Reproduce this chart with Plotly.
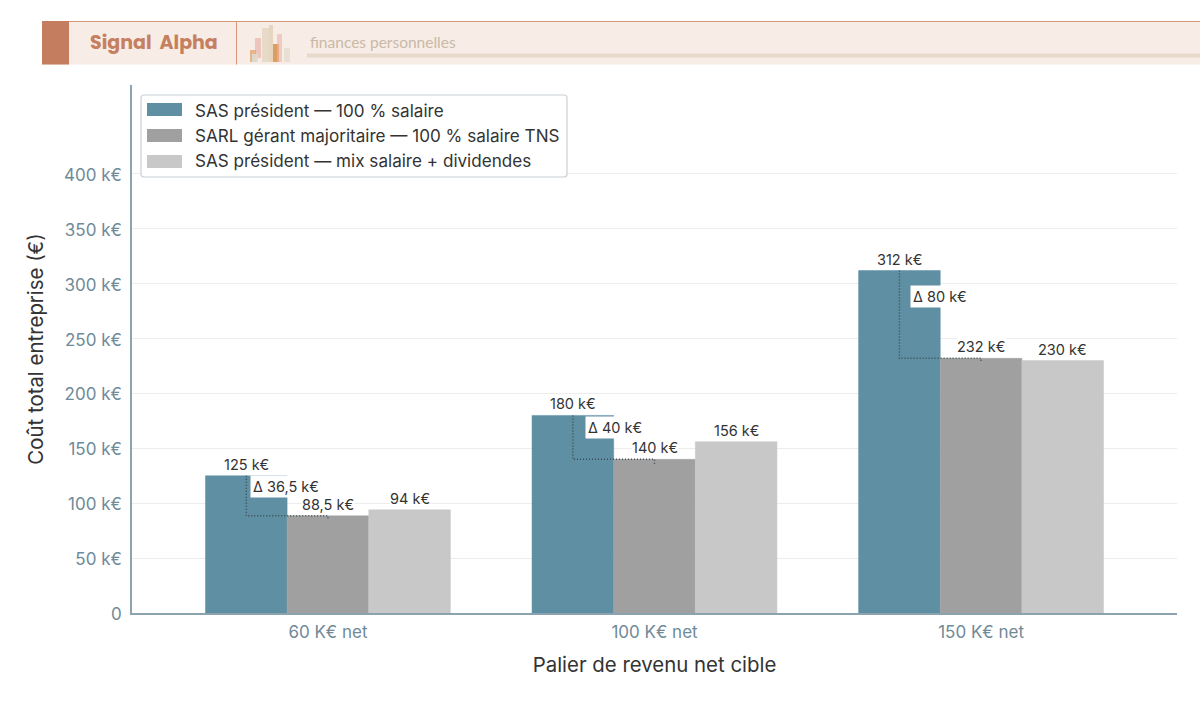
import plotly.graph_objects as go

categories = ["60 K€ net", "100 K€ net", "150 K€ net"]
series_names = ["SAS président — 100 % salaire",
                "SARL gérant majoritaire — 100 % salaire TNS",
                "SAS président — mix salaire + dividendes"]
sas_salaire = [125, 180, 312]
sarl_tns = [88.5, 140, 232]
sas_mix = [94, 156, 230]
sas_labels = ["125 k€", "180 k€", "312 k€"]
sarl_labels = ["88,5 k€", "140 k€", "232 k€"]
mix_labels = ["94 k€", "156 k€", "230 k€"]
delta_labels = ["Δ 36,5 k€", "Δ 40 k€", "Δ 80 k€"]
y_ticks = [0, 50, 100, 150, 200, 250, 300, 350, 400]
y_tick_labels = ["0", "50 k€", "100 k€", "150 k€", "200 k€", "250 k€", "300 k€", "350 k€", "400 k€"]

W, H = 1200, 721
L, R, T, B = 132, 23, 85, 108
PW, PH = W - L - R, H - T - B
FONT = "Inter, Roboto, sans-serif"
COLORS = ["#5e8fa3", "#a0a0a0", "#c8c8c8"]
BAR = 0.25


def px(x):
    return (x - L) / PW


def py(y):
    return 1 - (y - T) / PH


def rect(x0, y0, x1, y1, color, opacity=1.0, layer="above"):
    return dict(type="rect", xref="paper", yref="paper", x0=px(x0), x1=px(x1),
                y0=py(y1), y1=py(y0), fillcolor=color, opacity=opacity,
                line_width=0, layer=layer)


xs = list(range(len(categories)))
fig = go.Figure()
for name, vals, col, off in zip(series_names, [sas_salaire, sarl_tns, sas_mix], COLORS, [-BAR, 0, BAR]):
    fig.add_bar(x=[i + off for i in xs], y=vals, width=BAR, name=name, legendgroup=name, showlegend=False,
                marker=dict(color=col, line=dict(color=col, width=0.5)))
    fig.add_scatter(x=[None], y=[None], mode="lines", name=name, legendgroup=name,
                    line=dict(color="rgba(0,0,0,0)", width=1))

annotations = []
for i in xs:
    top, low = sas_salaire[i], sarl_tns[i]
    fig.add_scatter(x=[i - BAR, i - BAR, i, i], y=[top, low, low, low - 4],
                    mode="lines", showlegend=False, hoverinfo="skip",
                    line=dict(color="#3d4a50", width=1.5, dash="1px,2px"))
    for off, val, txt in ((-BAR, sas_salaire[i], sas_labels[i]),
                          (0, sarl_tns[i], sarl_labels[i]),
                          (BAR, sas_mix[i], mix_labels[i])):
        annotations.append(dict(x=i + off, y=val, xref="x", yref="y", text=txt, showarrow=False,
                                yanchor="bottom", yshift=2, bgcolor="white", borderpad=0,
                                font=dict(family=FONT, size=14.5, color="#333333")))
    annotations.append(dict(x=i - BAR, y=(top + low) / 2, xref="x", yref="y", text=delta_labels[i],
                            showarrow=False, xanchor="left", xshift=[4, 12, 11][i],
                            yshift=[9, 10, 18][i], bgcolor="white", borderpad=2,
                            font=dict(family=FONT, size=14.5, color="#333333")))

annotations.append(dict(x=px(87.5), y=py(43), xref="paper", yref="paper", text="<b>Signal  Alpha</b>",
                        showarrow=False, xanchor="left", yanchor="middle",
                        font=dict(family="Poppins, Lato, sans-serif", size=19, color="#c67f5f")))
annotations.append(dict(x=px(308), y=py(42.5), xref="paper", yref="paper", text="finances personnelles",
                        showarrow=False, xanchor="left", yanchor="middle",
                        font=dict(family="Lato, sans-serif", size=15.5, color="#c9b9a6")))

shapes = [
    rect(42, 21, W + 5, 64.5, "#f7ece6"),
    rect(42, 21, W + 5, 22, "#d4967a"),
    rect(42, 21, 69, 64.5, "#c47d5f"),
    rect(236, 21, 237, 64.5, "#d4967a"),
    rect(307, 53.5, W + 5, 57.5, "#e8dacb"),
    rect(255, 38, 261, 58, "#e9b5a9", 0.7),
    rect(250, 50, 256, 62, "#e5a770", 0.8),
    rect(252, 54, 258, 62, "#dcdcd0", 0.9),
    rect(262, 28, 269, 62, "#e6d8c4", 0.9),
    rect(269, 25, 273, 62, "#e3d3ba", 0.9),
    rect(273, 44, 279, 62, "#d88f45", 0.85),
    rect(277, 34, 282, 62, "#e9b5a9", 0.6),
    rect(284, 48, 290, 62, "#e6e0d0", 0.9),
    dict(type="path", xref="paper", yref="paper", layer="above", fillcolor="white",
         line=dict(color="#c9d0d4", width=1.2),
         path="M {} {} L {} {} Q {} {} {} {} L {} {} Q {} {} {} {} L {} {} Q {} {} {} {} L {} {} Q {} {} {} {} Z".format(
             px(144), py(95), px(564), py(95), px(567), py(95), px(567), py(98),
             px(567), py(174), px(567), py(177), px(564), py(177),
             px(144), py(177), px(141), py(177), px(141), py(174),
             px(141), py(98), px(141), py(95), px(144), py(95))),
    rect(147, 103, 182, 116, COLORS[0]),
    rect(147, 129, 182, 142, COLORS[1]),
    rect(147, 155, 182, 168, COLORS[2]),
]

fig.update_layout(
    width=W, height=H, autosize=False,
    margin=dict(l=L, r=R, t=T, b=B, pad=0),
    paper_bgcolor="white", plot_bgcolor="white",
    barmode="overlay", showlegend=True,
    font=dict(family=FONT, color="#333333"),
    legend=dict(x=px(141), y=py(92.5), xanchor="left", yanchor="top", bgcolor="rgba(0,0,0,0)",
                borderwidth=0, itemwidth=44, tracegroupgap=0,
                font=dict(family=FONT, size=17.1, color="#333333")),
    xaxis=dict(range=[-0.6, 2.6], tickmode="array", tickvals=xs, ticktext=categories,
               showgrid=False, zeroline=False, showline=True, linecolor="#8aa3ae", linewidth=1.5,
               ticks="", ticklabelstandoff=3,
               tickfont=dict(family=FONT, size=17, color="#6f8a99"),
               title=dict(text="Palier de revenu net cible", standoff=17,
                          font=dict(family=FONT, size=20.4, color="#333333"))),
    yaxis=dict(range=[0, 481], tickmode="array", tickvals=y_ticks, ticktext=y_tick_labels,
               showgrid=True, gridcolor="#ececec", gridwidth=1, zeroline=False,
               showline=True, linecolor="#8aa3ae", linewidth=1.5,
               ticks="", ticklabelstandoff=5, ticklabelshift=1,
               tickfont=dict(family=FONT, size=17, color="#6f8a99"),
               title=dict(text="Coût total entreprise (€)", standoff=15,
                          font=dict(family=FONT, size=20.4, color="#333333"))),
    shapes=shapes, annotations=annotations,
)

fig.write_html("out.html", config={"displayModeBar": False},
               post_script="document.body.style.margin='0';document.documentElement.style.overflow='hidden';")
